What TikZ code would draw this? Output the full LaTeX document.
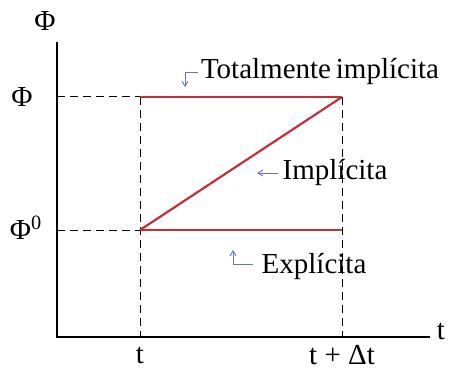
\documentclass[tikz,border=0pt]{standalone}
\usepackage{fontspec}
\setmainfont{Liberation Serif}
\usetikzlibrary{arrows.meta}
\definecolor{lred}{RGB}{196,48,58}
\definecolor{lblue}{RGB}{105,115,205}
\tikzset{
  axis/.style={line width=1.1pt},
  guide/.style={line width=0.5pt,dash pattern=on 4pt off 2.5pt},
  scheme/.style={lred,line width=1.1pt},
  pointer/.style={lblue,line width=0.45pt,-{Straight Barb[length=2.5pt,width=3pt]}},
  lbl/.style={font=\fontsize{14.5}{16}\selectfont,inner sep=0pt},
}
\begin{document}
\begin{tikzpicture}[x=0.5pt,y=-0.5pt]
\useasboundingbox (0,0) rectangle (449,369);
% key points
\coordinate (O) at (57,337);
\coordinate (ytop) at (57,42);
\coordinate (xend) at (430,337);
\coordinate (yphi) at (57,97);
\coordinate (yphi0) at (57,230);
\coordinate (A) at (140,230);
\coordinate (B) at (342,230);
\coordinate (C) at (140,97);
\coordinate (D) at (342,97);
\coordinate (tb) at (140,337);
\coordinate (tdb) at (342,337);
% axes
\draw[axis] (ytop) -- (O) -- (xend);
% guides
\draw[guide] (yphi) -- (C);
\draw[guide] (yphi0) -- (A);
\draw[guide] (C) -- (tb);
\draw[guide] (D) -- (tdb);
% schemes
\draw[scheme] (C) -- (D);
\draw[scheme] (A) -- (B);
\draw[scheme] (A) -- (D);
% axis labels
\node[lbl] (phiax) at (45,21) {Φ};
\node[lbl] (phi) at (22,97) {Φ};
\node[lbl] (phi0) at (26,228) {Φ\textsuperscript{0}};
\node[lbl] (tl) at (140,355) {t};
\node[lbl] (tdl) at (342,355) {t + Δt};
\node[lbl] (tax) at (441,331) {t};
% scheme labels
\node[lbl] (tot) at (320,72) {Totalmente\,implícita};
\node[lbl] (imp) at (335,173) {Implícita};
\node[lbl] (exp) at (314,267) {Explícita};
% small pointers
\coordinate (p1a) at (198,72);
\coordinate (p1b) at (185,72);
\coordinate (p1c) at (185,87);
\draw[pointer] (p1a) -- (p1b) -- (p1c);
\coordinate (p2a) at (278,173);
\coordinate (p2b) at (257,173);
\draw[pointer] (p2a) -- (p2b);
\coordinate (p3a) at (253,264);
\coordinate (p3b) at (233,264);
\coordinate (p3c) at (233,250);
\draw[pointer] (p3a) -- (p3b) -- (p3c);
\end{tikzpicture}
\end{document}
